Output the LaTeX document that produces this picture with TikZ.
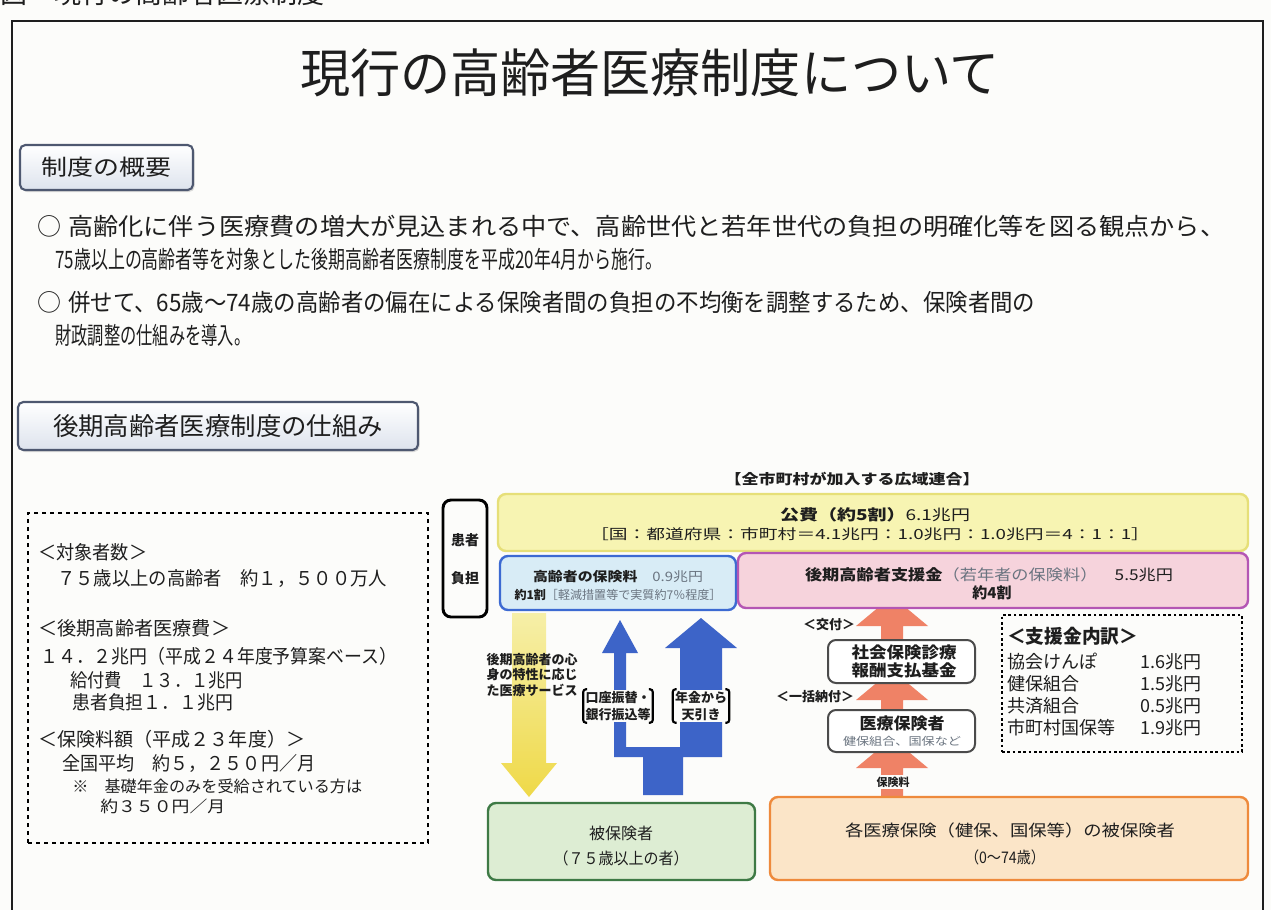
\documentclass[tikz,border=0pt]{standalone}
\usepackage{fontspec}
\usepackage{graphicx}
\setmainfont{Noto Sans CJK JP}
\usetikzlibrary{shadows}
\newsavebox\fitbox
\newcommand\fitw[2]{\sbox\fitbox{#2}\pgfmathsetmacro\fitsx{#1*0.75/\the\wd\fitbox}\scalebox{\fitsx}[1]{\usebox\fitbox}}
\newcommand\fs[1]{\fontsize{\fpeval{#1*0.75}pt}{\fpeval{#1*0.95}pt}\selectfont}
\definecolor{ink}{HTML}{1E1E1E}
\definecolor{bg}{HTML}{FCFCFA}
\definecolor{ylwF}{HTML}{F7F4B2}
\definecolor{ylwD}{HTML}{E6DF78}
\definecolor{bluF}{HTML}{D8ECF6}
\definecolor{bluD}{HTML}{3C6AD2}
\definecolor{pnkF}{HTML}{F6D3DC}
\definecolor{pnkD}{HTML}{B456B4}
\definecolor{grnF}{HTML}{DDEDD3}
\definecolor{grnD}{HTML}{3E7A45}
\definecolor{orgF}{HTML}{FBE5C8}
\definecolor{orgD}{HTML}{EE8A3C}
\definecolor{arrB}{HTML}{3D64C8}
\definecolor{arrY}{HTML}{EFD948}
\definecolor{arrYL}{HTML}{F6EFA8}
\definecolor{arrR}{HTML}{EF8266}
\definecolor{hdrD}{HTML}{4E5870}
\definecolor{hdrF}{HTML}{DDE3ED}
\definecolor{subg}{HTML}{6A7480}
\begin{document}
\begin{tikzpicture}[x=0.75pt,y=-0.75pt,
  every node/.style={inner sep=0pt,text=ink},
  L/.style={anchor=west},
  sz/.style 2 args={minimum width=#1*0.75pt,minimum height=#2*0.75pt},
  hdr/.style={draw=hdrD,line width=1.6pt,rounded corners=4pt,top color=white,bottom color=hdrF,
    drop shadow={shadow xshift=1.2pt,shadow yshift=-1.5pt,fill=gray!55}},
  rbox/.style={draw,rounded corners=6pt,line width=1.8pt},
  lbl/.style={fill=bg,inner sep=1.5pt,align=center,font=\fs{13}\bfseries}]
\useasboundingbox (0,0) rectangle (1271,910);
\fill[bg] (0,0) rectangle (1271,910);
% caption and frame
\node[anchor=base west,font=\fs{27}] (cap) at (0,3) {図　現行の高齢者医療制度};
\draw[line width=1.3pt,ink] (12,915) -- (12,21) -- (1263,21) -- (1263,915);
% title
\node[font=\fs{52}] (title) at (650,73) {\fitw{700}{現行の高齢者医療制度について}};
% section 1
\node[hdr,sz={173}{45}] (h1) at (106.5,167.5) {};
\node[font=\fs{22}] (h1t) at (h1) {\fitw{130}{制度の概要}};
\node[font=\fs{24}] (b1) at (49,226) {○};
\node[L,font=\fs{24}] (b1a) at (68,226) {\fitw{1157}{高齢化に伴う医療費の増大が見込まれる中で、高齢世代と若年世代の負担の明確化等を図る観点から、}};
\node[L,font=\fs{24}] (b1b) at (55,259) {\fitw{607}{75歳以上の高齢者等を対象とした後期高齢者医療制度を平成20年4月から施行。}};
\node[font=\fs{24}] (b2) at (49,302) {○};
\node[L,font=\fs{24}] (b2a) at (68,302) {\fitw{967}{併せて、65歳～74歳の高齢者の偏在による保険者間の負担の不均衡を調整するため、保険者間の}};
\node[L,font=\fs{24}] (b2b) at (55,335) {\fitw{195}{財政調整の仕組みを導入。}};
% section 2
\node[hdr,sz={400}{48}] (h2) at (218,426) {};
\node[font=\fs{25}] (h2t) at (h2) {\fitw{330}{後期高齢者医療制度の仕組み}};
% left dashed box
\node[draw,dashed,line width=1.4pt,sz={400}{330}] (lbox) at (228,678) {};
\node[L,font=\fs{19}] (l1) at (38,552) {\fitw{109}{＜対象者数＞}};
\node[L,font=\fs{19}] (l2) at (57,579) {\fitw{330}{７５歳以上の高齢者　約１，５００万人}};
\node[L,font=\fs{19}] (l3) at (38,628) {\fitw{192}{＜後期高齢者医療費＞}};
\node[L,font=\fs{19}] (l4) at (40,656) {\fitw{357}{１４．２兆円（平成２４年度予算案ベース）}};
\node[L,font=\fs{19}] (l5) at (70,680) {\fitw{173}{給付費　１３．１兆円}};
\node[L,font=\fs{19}] (l6) at (72,702) {\fitw{161}{患者負担１．１兆円}};
\node[L,font=\fs{19}] (l7) at (38,739) {\fitw{267}{＜保険料額（平成２３年度）＞}};
\node[L,font=\fs{19}] (l8) at (62,763) {\fitw{253}{全国平均　約５，２５０円／月}};
\node[L,font=\fs{16}] (l9) at (72,786) {\fitw{290}{※　基礎年金のみを受給されている方は}};
\node[L,font=\fs{16}] (l10) at (100,806) {\fitw{125}{約３５０円／月}};
% diagram header
\node[font=\fs{14}\bfseries] (rengo) at (852,479) {\fitw{255}{【全市町村が加入する広域連合】}};
% arrows (drawn beneath boxes)
\shade[top color=arrYL,bottom color=arrY] (512,613) -- (546,613) -- (546,763) -- (557,763) -- (529,797) -- (501,763) -- (512,763) -- cycle;
\fill[arrB] (643,795) -- (643,757) -- (614,757) -- (614,653) -- (602,653) -- (620,620) -- (638,653) -- (626,653) -- (626,747) -- (680,747) -- (680,648) -- (665,648) -- (701,618) -- (737,648) -- (722,648) -- (722,757) -- (683,757) -- (683,795) -- cycle;
\fill[arrR] (856,626) -- (892,596) -- (928,626) -- (903,626) -- (903,642) -- (881,642) -- (881,626) -- cycle;
\fill[arrR] (856,700) -- (892,670) -- (928,700) -- (903,700) -- (903,712) -- (881,712) -- (881,700) -- cycle;
\fill[arrR] (856,768) -- (892,738) -- (928,768) -- (903,768) -- (903,799) -- (881,799) -- (881,768) -- cycle;
% patient burden
\node[rbox,draw=black,line width=2.2pt,sz={44}{117}] (kanja) at (465,558.5) {};
\node[font=\fs{14}\bfseries] (kanja1) at (465,540) {患者};
\node[font=\fs{14}\bfseries] (kanja2) at (465,578) {負担};
% top boxes
\node[rbox,draw=ylwD,fill=ylwF,sz={750}{57}] (kohi) at (873,522.5) {};
\node[font=\fs{15}] (kohi1) at (875,515) {\fitw{190}{\textbf{公費（約5割）}6.1兆円}};
\node[font=\fs{14}] (kohi2) at (870,534) {\fitw{560}{［国：都道府県：市町村＝4.1兆円：1.0兆円：1.0兆円＝4：1：1］}};
\node[rbox,draw=bluD,fill=bluF,sz={236}{54}] (hoken) at (618,583) {};
\node[font=\fs{13}] (hoken1) at (618,577) {\fitw{170}{\textbf{高齢者の保険料}　\textcolor{subg}{0.9兆円}}};
\node[font=\fs{12}] (hoken2) at (618,595) {\fitw{207}{\textbf{約1割}\textcolor{subg}{［軽減措置等で実質約7％程度］}}};
\node[rbox,draw=pnkD,fill=pnkF,sz={510}{55}] (shien) at (993,580.5) {};
\node[font=\fs{15}] (shien1) at (989,575) {\fitw{368}{\textbf{後期高齢者支援金}\textcolor{subg}{（若年者の保険料）}　5.5兆円}};
\node[font=\fs{15}\bfseries] (shien2) at (992,593) {約4割};
% yellow arrow label
\node[font=\fs{13}\bfseries] (ya1) at (532,660) {\fitw{91}{後期高齢者の心}};
\node[font=\fs{13}\bfseries] (ya2) at (532,675) {\fitw{91}{身の特性に応じ}};
\node[font=\fs{13}\bfseries] (ya3) at (532,690) {\fitw{91}{た医療サービス}};
% blue arrow labels
\node[lbl] (bl1) at (618,706) {口座振替・\\銀行振込等};
\node[lbl] (bl2) at (701,706) {年金から\\天引き};
\foreach \n in {bl1,bl2}{
  \draw[line width=1.6pt,rounded corners=2pt] ([xshift=3pt]\n.north west) -- (\n.north west) -- (\n.south west) -- ([xshift=3pt]\n.south west);
  \draw[line width=1.6pt,rounded corners=2pt] ([xshift=-3pt]\n.north east) -- (\n.north east) -- (\n.south east) -- ([xshift=-3pt]\n.south east);
}
% red column
\node[font=\fs{13}\bfseries] (kofu) at (829,625) {＜交付＞};
\node[rbox,draw=ink!80,fill=white,line width=1.5pt,sz={147}{43}] (kikin) at (901.5,661.5) {};
\node[font=\fs{16}\bfseries] (kikin1) at (904,652) {\fitw{105}{社会保険診療}};
\node[font=\fs{16}\bfseries] (kikin2) at (904,670) {\fitw{105}{報酬支払基金}};
\node[font=\fs{13}\bfseries] (ikkatsu) at (815,697) {＜一括納付＞};
\node[rbox,draw=ink!80,fill=white,line width=1.5pt,sz={147}{42}] (iryo) at (901.5,731) {};
\node[font=\fs{16}\bfseries] (iryo1) at (902,723) {\fitw{85}{医療保険者}};
\node[font=\fs{11},text=subg] (iryo2) at (902,741) {\fitw{118}{健保組合、国保など}};
\node[fill=bg,inner sep=1pt,font=\fs{11}\bfseries] (hkr) at (893,782) {保険料};
% support breakdown
\node[draw,dotted,line width=2pt,sz={240}{137}] (uchi) at (1122,683.5) {};
\node[L,font=\fs{19}\bfseries] (u0) at (1007,636) {\fitw{131}{＜支援金内訳＞}};
\node[L,font=\fs{18}] (u1) at (1007,662) {協会けんぽ};
\node[L,font=\fs{18}] (u2) at (1007,684) {健保組合};
\node[L,font=\fs{18}] (u3) at (1007,706) {共済組合};
\node[L,font=\fs{18}] (u4) at (1007,728) {市町村国保等};
\node[L,font=\fs{18}] (v1) at (1140,662) {1.6兆円};
\node[L,font=\fs{18}] (v2) at (1140,684) {1.5兆円};
\node[L,font=\fs{18}] (v3) at (1140,706) {0.5兆円};
\node[L,font=\fs{18}] (v4) at (1140,728) {1.9兆円};
% bottom boxes
\node[rbox,draw=grnD,fill=grnF,sz={267}{77}] (hihoken) at (621.5,841.5) {};
\node[font=\fs{16}] (hh1) at (621,833) {被保険者};
\node[font=\fs{16}] (hh2) at (621,858) {\fitw{135}{（７５歳以上の者）}};
\node[rbox,draw=orgD,fill=orgF,sz={478}{83}] (kaku) at (1009,838.5) {};
\node[font=\fs{16}] (kk1) at (1010,830) {\fitw{330}{各医療保険（健保、国保等）の被保険者}};
\node[font=\fs{16}] (kk2) at (1005,857) {\fitw{80}{（0～74歳）}};
\end{tikzpicture}
\end{document}
